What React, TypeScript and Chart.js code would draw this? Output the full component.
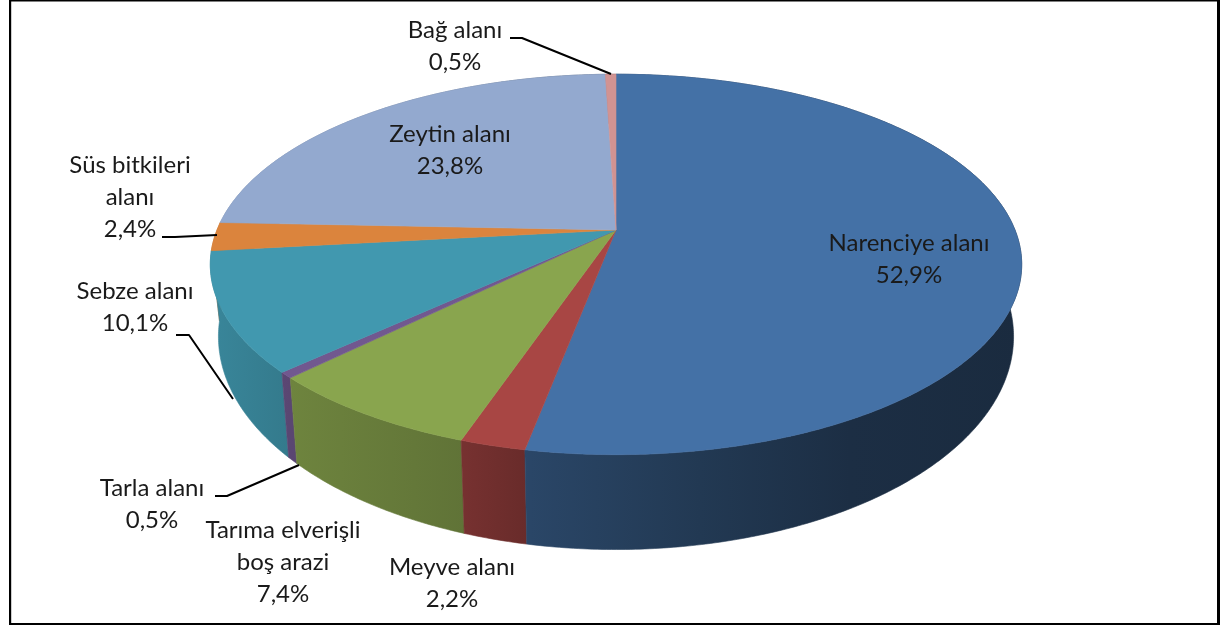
import React, { useEffect, useRef } from "react";
import { Chart, registerables } from "chart.js";

Chart.register(...registerables);

const categories = ["Narenciye alanı", "Meyve alanı", "Tarıma elverişli boş arazi", "Tarla alanı", "Sebze alanı", "Süs bitkileri alanı", "Zeytin alanı", "Bağ alanı"];
const values = [52.9, 2.2, 7.4, 0.5, 10.1, 2.4, 23.8, 0.5];
const colors = ["#4471A6", "#A84644", "#89A54E", "#71588F", "#4198AF", "#DB843D", "#93A9CF", "#D19392"];
const labelLines = [["Narenciye alanı"], ["Meyve alanı"], ["Tarıma elverişli", "boş arazi"], ["Tarla alanı"], ["Sebze alanı"], ["Süs bitkileri", "alanı"], ["Zeytin alanı"], ["Bağ alanı"]];

// layout: label centre x and first-line middle y, per category
const labelX = [909, 452, 283, 152, 135, 130, 450, 455];
const labelY = [243, 567, 530, 488, 291, 165, 134, 30];
const LINE_H = 32;
const leaders: number[][][] = [
  [], [], [],
  [[215, 496], [227, 496], [299, 465]],
  [[176, 335], [189, 335], [233, 399]],
  [[162, 237], [175, 237], [217, 235]],
  [],
  [[510, 38], [522, 38], [611, 74]],
];

// perspective projection of the pie plane
const CX = 616;
const K = 0.181;
const TOP = { y: 230, a: 399, b: 184 };
const BOTTOM = { y: 298, a: 391, b: 206 };
const shadeX = [210, 290, 465, 530, 700, 850, 1022];
const shadeF = [0.88, 0.8, 0.7, 0.62, 0.5, 0.41, 0.38];

function project(p: { y: number; a: number; b: number }, t: number) {
  const u = Math.cos(t), v = Math.sin(t), w = 1 - K * v;
  return [CX + (p.a * u) / w, p.y + (p.b * v) / w];
}
function arcPoints(p: any, s: number, e: number) {
  const n = Math.max(2, Math.ceil((e - s) / 0.01));
  const pts: number[][] = [];
  for (let i = 0; i <= n; i++) pts.push(project(p, s + ((e - s) * i) / n));
  return pts;
}
function rgb(hex: string) {
  return [1, 3, 5].map((i) => parseInt(hex.slice(i, i + 2), 16));
}
function fillPoly(ctx: CanvasRenderingContext2D, pts: number[][], fill: any) {
  ctx.beginPath();
  pts.forEach((q, i) => (i ? ctx.lineTo(q[0], q[1]) : ctx.moveTo(q[0], q[1])));
  ctx.closePath();
  ctx.fillStyle = fill;
  ctx.strokeStyle = fill;
  ctx.lineWidth = 0.6;
  ctx.fill();
  ctx.stroke();
}

const pie3d = {
  id: "pie3d",
  beforeDraw(chart: any) {
    const { ctx, width, height } = chart;
    ctx.save();
    ctx.fillStyle = "#fff";
    ctx.fillRect(0, 0, width, height);
    ctx.fillStyle = "#000";
    ctx.fillRect(9, 0, 1211, 1.5);
    ctx.fillRect(9, 0, 2.2, 625);
    ctx.fillRect(1217, 0, 3, 625);
    ctx.fillRect(9, 623, 1211, 2);
    ctx.restore();
  },
  beforeDatasetDraw(chart: any, args: any) {
    const ctx: CanvasRenderingContext2D = chart.ctx;
    const arcs = chart.getDatasetMeta(args.index).data;
    ctx.save();
    // walls back to front, so a wall turned away stays behind its neighbours
    const frontness = (arc: any) => {
      const pts = arcPoints(TOP, arc.startAngle, arc.endAngle);
      return Math.max(...pts.map((q) => q[1]));
    };
    const order = arcs.map((_: any, i: number) => i).sort((a: number, b: number) => frontness(arcs[a]) - frontness(arcs[b]));
    order.forEach((i: number) => {
      const arc = arcs[i];
      const c = rgb(colors[i]);
      const g = ctx.createLinearGradient(shadeX[0], 0, shadeX[shadeX.length - 1], 0);
      shadeX.forEach((x, j) => {
        const f = shadeF[j];
        g.addColorStop((x - shadeX[0]) / (shadeX[shadeX.length - 1] - shadeX[0]), `rgb(${c[0] * f},${c[1] * f},${c[2] * f})`);
      });
      const up = arcPoints(TOP, arc.startAngle, arc.endAngle);
      const down = arcPoints(BOTTOM, arc.startAngle, arc.endAngle).reverse();
      fillPoly(ctx, up.concat(down), g);
    });
    arcs.forEach((arc: any, i: number) => {
      fillPoly(ctx, [[CX, TOP.y], ...arcPoints(TOP, arc.startAngle, arc.endAngle)], colors[i]);
    });
    ctx.restore();
    return false;
  },
  afterDatasetsDraw(chart: any) {
    const ctx: CanvasRenderingContext2D = chart.ctx;
    ctx.save();
    ctx.strokeStyle = "#000";
    ctx.lineWidth = 2;
    ctx.lineJoin = "round";
    leaders.forEach((l) => {
      if (!l.length) return;
      ctx.beginPath();
      l.forEach((q, i) => (i ? ctx.lineTo(q[0], q[1]) : ctx.moveTo(q[0], q[1])));
      ctx.stroke();
    });
    ctx.fillStyle = "#1a1a1a";
    ctx.font = '24px Lato, "Open Sans", sans-serif';
    ctx.textAlign = "center";
    ctx.textBaseline = "middle";
    categories.forEach((_, i) => {
      const lines = [...labelLines[i], values[i].toFixed(1).replace(".", ",") + "%"];
      lines.forEach((t, j) => ctx.fillText(t, labelX[i], labelY[i] + j * LINE_H));
    });
    ctx.restore();
  },
};

export default function App() {
  const ref = useRef<HTMLCanvasElement>(null);
  useEffect(() => {
    const chart = new Chart(ref.current as HTMLCanvasElement, {
      type: "pie",
      data: {
        labels: categories,
        datasets: [{ data: values, backgroundColor: colors, borderWidth: 0 }],
      },
      options: {
        responsive: false,
        animation: false,
        plugins: { legend: { display: false }, tooltip: { enabled: false } },
      },
      plugins: [pie3d],
    } as any);
    return () => chart.destroy();
  }, []);
  return (
    <canvas
      ref={ref}
      width={1220}
      height={627}
      style={{ position: "fixed", left: 0, top: 0, width: 1220, height: 627, display: "block" }}
    />
  );
}
